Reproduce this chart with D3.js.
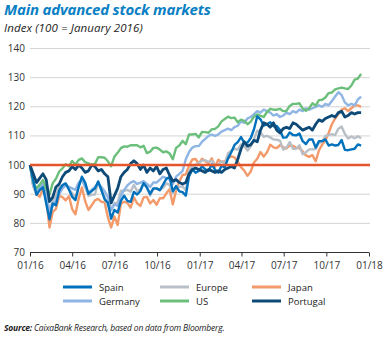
<!DOCTYPE html>
<html><head><meta charset="utf-8">
<script src="https://cdn.jsdelivr.net/npm/d3@7"></script>
<style>
html,body{margin:0;padding:0;background:#fff;}
svg{display:block;font-family:"Open Sans",sans-serif;}
</style></head>
<body><svg id="chart" width="392" height="338"></svg>
<script>
// Weekly observations starting 1 Jan 2016 (index, 100 = January 2016)
const startDate = new Date(2016, 0, 1);
const stepDays = 7;

const spain = [100,94.7,89.8,91.4,92.4,86.8,81.4,86.8,86.2,91.3,93.1,93.7,91.6,89.1,88,92.5,96,94,90.1,91.1,92,94.4,91.4,88.2,87.1,81.6,84.6,83.7,87.7,89.5,87.7,87.4,90.8,89.9,91.1,93.8,92.3,90.1,92,92,91.4,93.3,95.3,95.9,91,92.8,91,90.7,89.5,96.2,98.5,97.4,98,
 99.6,98.5,98,100.2,98.4,97.4,99.8,99.2,102.3,104.4,106.9,107.9,109.6,107.7,107.7,109.3,112.3,116.7,115.7,113.5,114,114.7,113.3,113.4,112,109.4,109.5,111.2,110.3,110.2,110.8,108.2,107.2,108.8,108.8,106,108.2,108.2,108.8,106.7,107.1,106.7,106.9,108.6,105.2,105.1,105.4,105.6,107.1,106.7];

const europe = [100,92.8,89.8,92.2,93.2,88.4,84.3,87.8,89.5,92.7,92.8,93.6,91.6,90.4,88.8,92.9,95.4,92.7,89.4,89.8,89.9,94.2,91.3,89,86,84.9,87,87.1,91.2,91.2,91.5,90.9,93.2,91.1,91.7,93.9,92.4,89.5,91.8,91.9,91.4,92.2,93.7,93.2,90.4,92.7,92.5,92.7,91.4,97.8,99.6,100.1,100.7,
 101.6,101.6,101.1,101.5,100.2,100.1,101.3,100.5,104.1,104.9,105.6,105.3,107.1,106.5,105,106.4,108.9,111.8,111.3,109.7,110,109.5,108.8,108.7,108.4,105.3,106,107.9,105.6,105.6,106.8,103.7,104.4,105.4,105.4,105.5,107.6,108,110,110.3,110.6,110.3,112.5,113.2,110.7,109.1,109.8,109.2,109.9,109.2];

const japan = [100,93,90.1,89.1,92,88.4,78.6,83.9,85,89.4,89,87.9,89.3,84.9,83.1,88.5,92.3,87.6,84.6,86.2,87.9,88.4,87.4,87.2,82,78.6,82.4,79.4,86.7,87.4,87,85.4,88.9,86.9,86,88.9,89.1,86.8,88,86.4,88.6,88.6,90.3,91.7,86.5,91.3,94.4,96.6,96.8,99.8,101.9,102.1,100.4,
 102.2,101.3,100.5,102.3,99.4,101.8,101.1,101.3,102.3,103,102.6,101.2,99.3,98.1,96.3,97.8,100.9,102.2,104.5,102.9,104.4,107,106.1,105.8,106.8,106.2,105.7,106.7,106.6,105.9,105.8,104.7,103.3,102.8,103.4,101.3,105,107,108.5,111,114,116,117.5,119,119.5,118.5,119.5,120.5,120.5,120];

const germany = [100,93,91,92.5,93.5,90,84,86,88,90,92,93,92.5,92,91.5,94,95,92.5,90.5,91.5,92.5,93.5,92.5,91,89,84.5,86.5,86,89.5,91.5,93,94,94.5,93.5,94,94.5,93.5,92.5,94,94,95,96,95.5,95,93.5,96,97,98,102,104.5,106,106.5,106.5,
 108,109,110,110.5,110,110.5,111.5,112,112.5,112,113,113.5,115,114.5,116,116.5,117.5,118.5,118,119,118.5,118,117,117.5,116.5,117,118,117.5,118.5,118,119,118.5,119.5,119,119.5,120,120.5,120,121,120.5,122,123.5,125,124,121.5,120.5,121,120.5,122.5,123.5];

const us = [100,94,92,93.3,94.9,92,89.8,93.8,95.3,97.8,98.9,100.3,99.6,101.4,100.2,101.8,102.3,101,100.6,100.1,100.4,102.7,102.7,102.5,101.3,99.6,102.9,104.2,105.8,106.4,106.3,106.8,106.8,106.8,106.1,106.6,104.1,104.6,105.9,106,105.3,104.4,104.7,104,102,105.9,106.7,108.3,107.2,110.5,110.5,110.7,109.5,
 111.4,111.3,111.1,112.3,112.4,113.3,115,115.8,116.6,116.1,116.3,114.7,115.6,115.2,114,114.9,116.6,117.4,116.9,116.5,118.2,119.3,119,119,119.3,118.5,118.6,120.3,121,121,121.2,119.4,118.6,119.5,121.2,120.4,122.3,122.4,123.2,124.7,124.9,126,126.3,126.6,126.3,126.1,127.3,129.3,129.7,131.3];

const portugal = [100,97,94,95.5,97,95,87.5,89,92.5,93.5,96,97.5,98,99.5,98.5,100,99,97.5,98,100,99.5,98,98.5,97,96,87,89.5,92,96,97.5,98.5,100.5,101.5,100.5,98.5,100,97.5,99,98,99.5,97,98.5,99,96.5,94.5,95,94,93.5,94,97,98.5,99,98.5,
 98,97.5,98.5,98,97.5,98,97.5,98.5,99,99.5,99,102,105.5,108,106.5,107,108.5,108,112,114.5,114,113,114.5,112,111,112.5,113,112.5,114.5,114,113,112,112.5,113,112,114,115.5,115,116,116.5,117,116.5,118,118.5,116.5,117,118,117.5,118,118];

const seriesNames = ["Spain","Europe","Japan","Germany","US","Portugal"];
const seriesColors = ["#0071bc","#b8bfc6","#f39a6b","#8fb5e4","#6cbf7b","#0d4a77"];
const seriesWidths = [2.4,2.4,2.4,2.4,2.4,2.8];
const seriesValues = [spain, europe, japan, germany, us, portugal];
const drawOrder = [2,1,3,4,0,5];

const yTicks = [70,80,90,100,110,120,130,140];
const xTickLabels = ["01/16","04/16","07/16","10/16","01/17","04/17","07/17","10/17","01/18"];
const referenceLevel = 100;

const svg = d3.select("#chart");
const x = d3.scaleTime().domain([new Date(2016,0,1), new Date(2018,0,1)]).range([30, 369]);
const y = d3.scaleLinear().domain([70,140]).range([252.5, 48.5]);

// title
svg.append("text").attr("x",4).attr("y",15).attr("fill","#0a7fc4")
  .attr("font-size",15).attr("font-weight","bold").attr("font-style","italic")
  .attr("letter-spacing","-0.2").text("Main advanced stock markets");
svg.append("text").attr("x",4).attr("y",32).attr("fill","#222")
  .attr("font-size",11.5).attr("font-style","italic").attr("letter-spacing","0.1")
  .text("Index (100 = January 2016)");

// grid
const g = svg.append("g");
g.selectAll("line.grid").data(yTicks.filter(t=>t>70)).join("line")
  .attr("x1",30).attr("x2",370).attr("y1",d=>y(d)).attr("y2",d=>y(d))
  .attr("stroke","#d4d4d4").attr("stroke-width",1);

// y labels
g.selectAll("text.ylab").data(yTicks).join("text")
  .attr("x",25).attr("y",d=>y(d)+3.5).attr("text-anchor","end")
  .attr("font-size",10).attr("fill","#333").text(d=>d);

// x axis
const xTicks = d3.timeMonth.every(3).range(new Date(2016,0,1), new Date(2018,0,2));
const xAxis = d3.axisBottom(x).tickValues(xTicks).tickSize(4)
  .tickFormat((d,i)=>xTickLabels[i]);
const ax = svg.append("g").attr("transform","translate(0,252.5)").call(xAxis);
ax.select(".domain").attr("stroke","#333").attr("d","M30,0H369");
ax.selectAll(".tick line").attr("stroke","#333");
ax.selectAll(".tick text").attr("font-size",10).attr("fill","#333")
  .attr("font-family","Open Sans, sans-serif").attr("dy","0.9em");

// lines
const line = d3.line()
  .x((d,i)=>x(d3.timeDay.offset(startDate, i*stepDays)))
  .y(d=>y(d)).curve(d3.curveLinear);
drawOrder.forEach(s=>{
  svg.append("path").datum(seriesValues[s]).attr("d",line)
    .attr("fill","none").attr("stroke",seriesColors[s])
    .attr("stroke-width",seriesWidths[s]).attr("stroke-linejoin","round");
});

// reference line
svg.append("line").attr("x1",30).attr("x2",370)
  .attr("y1",y(referenceLevel)).attr("y2",y(referenceLevel))
  .attr("stroke","#e4552b").attr("stroke-width",2.6);

// legend
const legX = [63,160,252], legY = [287,301];
seriesNames.forEach((n,i)=>{
  const cx = legX[i%3], cy = legY[Math.floor(i/3)];
  svg.append("line").attr("x1",cx).attr("x2",cx+29).attr("y1",cy).attr("y2",cy)
    .attr("stroke",seriesColors[i]).attr("stroke-width",3);
  svg.append("text").attr("x",cx+36).attr("y",cy+3.5).attr("font-size",9.5)
    .attr("fill","#222").text(n);
});

// source
const src = svg.append("text").attr("x",4).attr("y",331).attr("font-size",8.5)
  .attr("font-style","italic").attr("fill","#222").attr("letter-spacing","-0.2");
src.append("tspan").attr("font-weight","bold").text("Source: ");
src.append("tspan").text("CaixaBank Research, based on data from Bloomberg.");
</script></body></html>
